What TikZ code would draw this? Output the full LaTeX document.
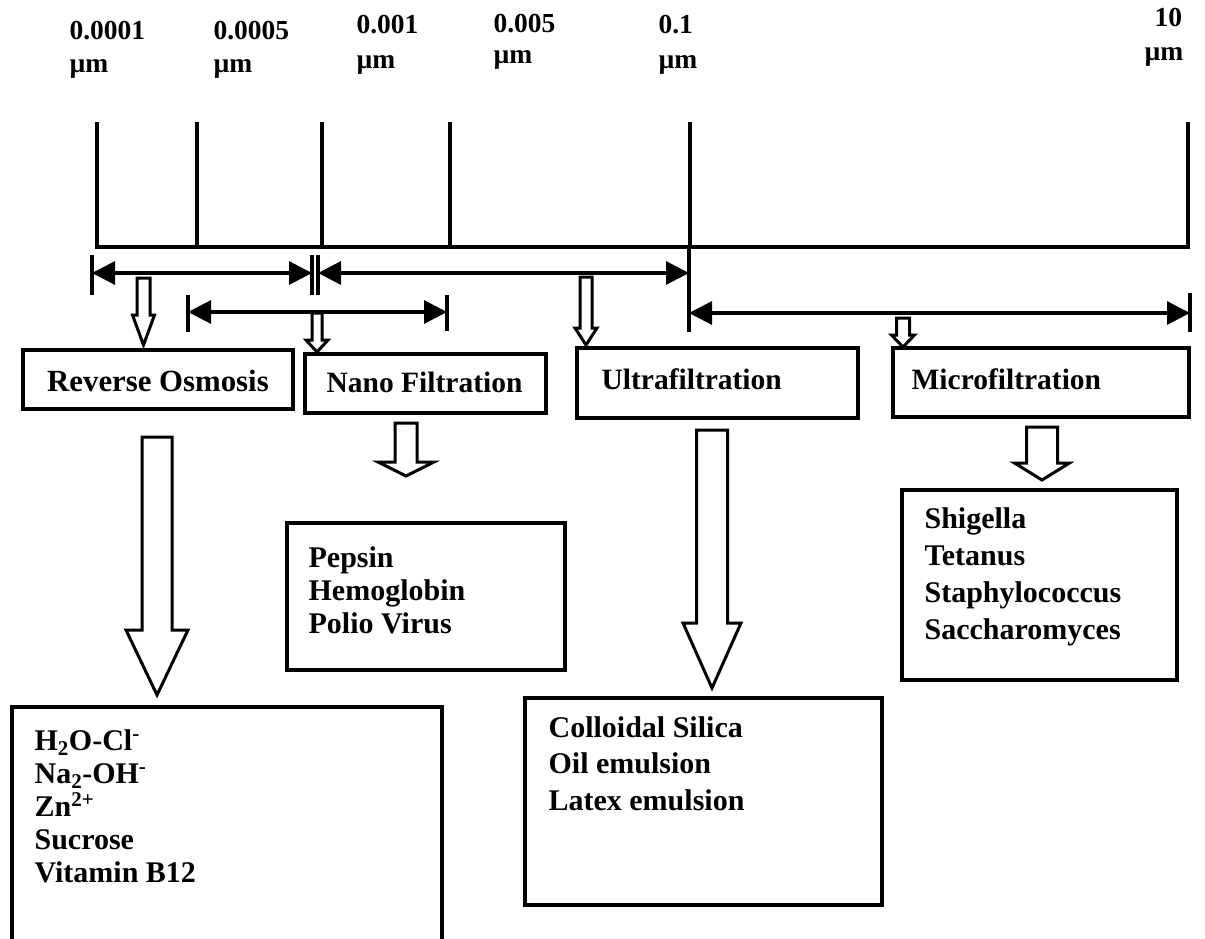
\documentclass[tikz,border=0pt]{standalone}
\usepackage{fontspec}
\setmainfont{Liberation Serif}
\usetikzlibrary{arrows.meta}
% block arrow: centre x, top y, shaft half width, head y, head half width, tip y
\newcommand\blockarrow[6]{%
  \draw[barrow] (#1-#3,#2) -- (#1+#3,#2) -- (#1+#3,#4) -- (#1+#5,#4) -- (#1,#6)
     -- (#1-#5,#4) -- (#1-#3,#4) -- cycle;}
\begin{document}
\begin{tikzpicture}[x=1pt,y=-1pt,line width=3.2pt,
  scl/.style={font=\fontsize{27.5}{30}\selectfont\bfseries,inner sep=0pt,anchor=base west},
  lbl/.style={font=\fontsize{29.5}{34}\selectfont\bfseries,inner sep=0pt,anchor=base west},
  boxnode/.style={draw,rectangle,inner sep=0pt,outer sep=0pt,anchor=north west},
  dimline/.style={{Triangle[length=23pt,width=23pt]}-{Triangle[length=23pt,width=23pt]}},
  barrow/.style={draw,line width=3pt,line join=miter,fill=white},
  tick/.style={line width=3.2pt}]
\useasboundingbox (0,0) rectangle (1205,938);

% scale labels
\node[scl] (l1) at (68,39) {0.0001};   \node[scl] (u1) at (68,72) {µm};
\node[scl] (l2) at (212,39) {0.0005};  \node[scl] (u2) at (212,72) {µm};
\node[scl] (l3) at (355,33) {0.001};   \node[scl] (u3) at (355,68) {µm};
\node[scl] (l4) at (492,32) {0.005};   \node[scl] (u4) at (492,63) {µm};
\node[scl] (l5) at (657,33) {0.1};     \node[scl] (u5) at (657,68) {µm};
\node[scl] (l6) at (1153,26) {10};     \node[scl] (u6) at (1143,60) {µm};

% scale
\coordinate (b0) at (97,247);
\coordinate (b1) at (1188,247);
\draw[tick] (97,122) -- (b0) -- (b1) -- (1188,122);
\draw[tick] (197,122) -- (197,247);
\draw[tick] (322,122) -- (322,247);
\draw[tick] (450,122) -- (450,247);
\draw[tick] (690,122) -- (690,247);

% range arrows
\coordinate (r1a) at (92,273);  \coordinate (r1b) at (312,273);
\coordinate (r1c) at (318,273); \coordinate (r1d) at (689,273);
\coordinate (r2a) at (188,312); \coordinate (r2b) at (447,312);
\coordinate (r3a) at (689,313); \coordinate (r3b) at (1190,313);
\draw[dimline] (r1a) -- (r1b);
\draw[dimline] (r1c) -- (r1d);
\draw[dimline] (r2a) -- (r2b);
\draw[dimline] (r3a) -- (r3b);
\draw (92,255) -- (92,295);
\draw (312,255) -- (312,295);
\draw (318,255) -- (318,295);
\draw (689,247) -- (689,332);
\draw (188,295) -- (188,332);
\draw (447,295) -- (447,331);
\draw (1190,293) -- (1190,332);

% small block arrows
\blockarrow{143.5}{278}{6.5}{315}{11}{345}
\blockarrow{317}{313}{5}{340}{11}{352}
\blockarrow{586}{277}{6}{328}{11}{345}
\blockarrow{903}{318}{6.5}{335}{11.5}{347}

% process boxes
\node[boxnode,minimum width=270pt,minimum height=59pt] (ro) at (23,350) {};
\node[lbl,anchor=base,font=\fontsize{30.8}{34}\selectfont\bfseries] (rot) at (158,391) {Reverse Osmosis};
\node[boxnode,minimum width=241pt,minimum height=59pt] (nf) at (305,354) {};
\node[lbl] (nft) at (325,392) {Nano Filtration};
\node[boxnode,minimum width=281pt,minimum height=70pt] (uf) at (577,348) {};
\node[lbl] (uft) at (600,389) {Ultrafiltration};
\node[boxnode,minimum width=296pt,minimum height=69pt] (mf) at (893,348) {};
\node[lbl] (mft) at (910,389) {Microfiltration};

% big block arrows
\blockarrow{157}{437}{15}{630}{31}{695}
\blockarrow{406}{423}{11}{462}{28}{476}
\blockarrow{712}{430}{15.5}{623}{29}{688}
\blockarrow{1042}{427}{15.5}{463}{27.5}{480}

% result boxes
\draw (12,945) -- (12,707) -- (442,707) -- (442,945);
\node[lbl,font=\fontsize{30}{33}\selectfont\bfseries] (rol) at (33,750)
  {\begin{tabular}[t]{@{}l@{}}H\textsubscript{2}O-Cl\textsuperscript{-}\\
   Na\textsubscript{2}-OH\textsuperscript{-}\\ Zn\textsuperscript{2+}\\ Sucrose\\ Vitamin B12\end{tabular}};

\node[boxnode,minimum width=278pt,minimum height=147pt] (nfl) at (287,523) {};
\node[lbl,font=\fontsize{30}{33}\selectfont\bfseries] (nflt) at (307,567)
  {\begin{tabular}[t]{@{}l@{}}Pepsin\\ Hemoglobin\\ Polio Virus\end{tabular}};

\node[boxnode,minimum width=357pt,minimum height=207pt] (ufl) at (525,698) {};
\node[lbl,font=\fontsize{30}{36.5}\selectfont\bfseries] (uflt) at (547,737)
  {\begin{tabular}[t]{@{}l@{}}Colloidal Silica\\ Oil emulsion\\ Latex emulsion\end{tabular}};

\node[boxnode,minimum width=275pt,minimum height=190pt] (mfl) at (902,490) {};
\node[lbl,font=\fontsize{30}{37.3}\selectfont\bfseries] (mflt) at (923,528)
  {\begin{tabular}[t]{@{}l@{}}Shigella\\ Tetanus\\ Staphylococcus\\ Saccharomyces\end{tabular}};
\end{tikzpicture}
\end{document}
